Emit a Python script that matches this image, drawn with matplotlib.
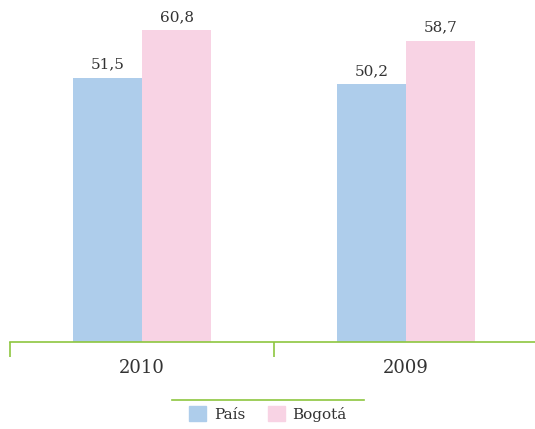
import matplotlib.pyplot as plt
from matplotlib.lines import Line2D
from matplotlib.patches import Patch
import numpy as np

years = ["2010", "2009"]
pais = [51.5, 50.2]
bogota = [60.8, 58.7]
pais_labels = ["51,5", "50,2"]
bogota_labels = ["60,8", "58,7"]

blue = "#AECDEB"
pink = "#F8D3E4"
green = "#8DC63F"
text_color = "#333333"

plt.rcParams['font.family'] = ['DejaVu Serif']

fig = plt.figure(figsize=(5.35, 4.29), dpi=100)
W, H = 535, 429
ax = fig.add_axes([10 / W, 1 - 342 / H, 1 - 10 / W, 332 / H])

x = np.arange(len(years))
w = 0.262
b1 = ax.bar(x - w / 2, pais, w, color=blue)
b2 = ax.bar(x + w / 2, bogota, w, color=pink)

for bars, labels in ((b1, pais_labels), (b2, bogota_labels)):
    for rect, lab in zip(bars, labels):
        ax.text(rect.get_x() + rect.get_width() / 2, rect.get_height() + 1.2, lab,
                ha="center", va="bottom", fontsize=11, color=text_color)

ax.set_xlim(-0.5, (W - 10) / 264 - 0.5)
ax.set_ylim(0, 332 / 5.13)

for s in ("top", "right", "left"):
    ax.spines[s].set_visible(False)
ax.spines["bottom"].set_color(green)
ax.spines["bottom"].set_linewidth(1.2)
ax.set_yticks([])

ax.set_xticks([-0.5, 0.5])
ax.set_xticklabels([])
ax.tick_params(axis="x", which="major", length=11, width=1.2, color=green, direction="out")
ax.set_xticks(x, minor=True)
ax.set_xticklabels(years, minor=True, fontsize=13, color=text_color)
ax.tick_params(axis="x", which="minor", length=0, pad=12)

fig.add_artist(Line2D([172 / W, 364 / W], [1 - 400 / H, 1 - 400 / H], color=green, lw=1.2))

handles = [Patch(color=blue, label="País"), Patch(color=pink, label="Bogotá")]
fig.legend(handles=handles, loc="center", bbox_to_anchor=(268 / W, 1 - 414 / H), ncol=2,
           frameon=False, fontsize=11, handlelength=1.1, handleheight=1.1,
           handletextpad=0.5, columnspacing=1.5, labelcolor=text_color)

fig.savefig("out.png", dpi=100)
